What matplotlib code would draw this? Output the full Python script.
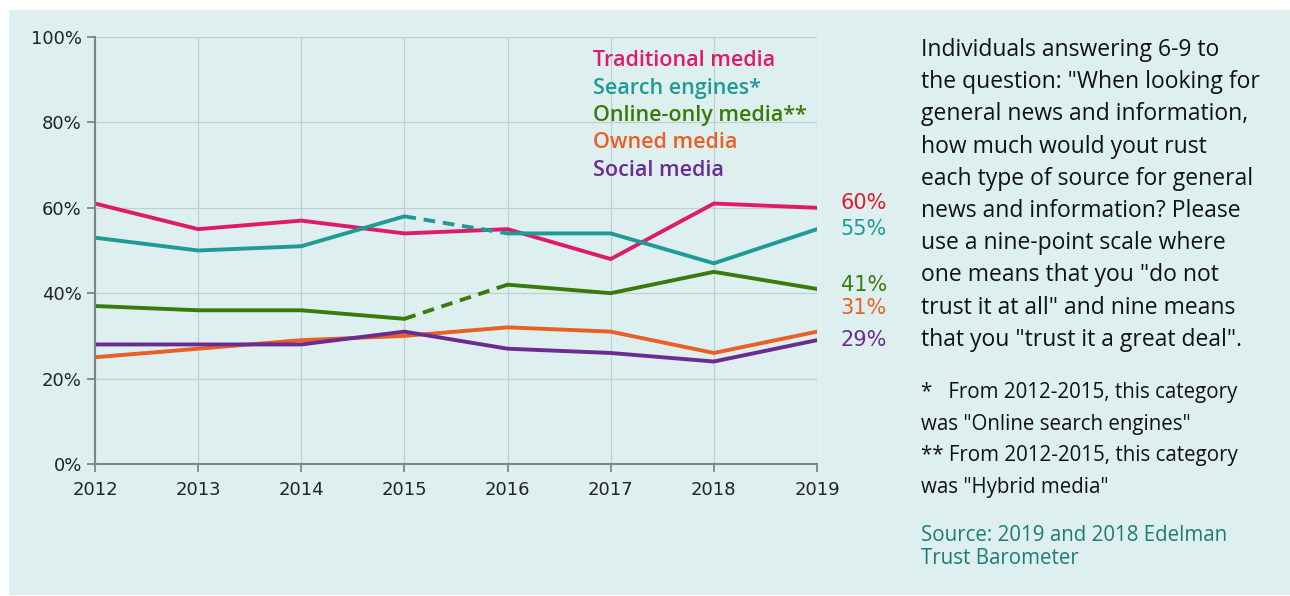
import matplotlib.pyplot as plt
from matplotlib.patches import Rectangle

# Данные
years = [2012, 2013, 2014, 2015, 2016, 2017, 2018, 2019]
traditional = [61, 55, 57, 54, 55, 48, 61, 60]
search = [53, 50, 51, 58, 54, 54, 47, 55]
online_only = [37, 36, 36, 34, 42, 40, 45, 41]
owned = [25, 27, 29, 30, 32, 31, 26, 31]
social = [28, 28, 28, 31, 27, 26, 24, 29]

series_names = ['Traditional media', 'Search engines*', 'Online-only media**',
                'Owned media', 'Social media']
series_values = [traditional, search, online_only, owned, social]
series_colors = ['#E0196A', '#1F9A96', '#3A7A0B', '#EB5E25', '#6A2C91']
label_colors = ['#E3192B', '#1F9A96', '#3A7A0B', '#EB5E25', '#6A2C91']
dashed_gap = [False, True, True, False, False]  # 2015-2016 пунктиром
label_shift = [1.2, 0, 1, 5.5, 0]

fig = plt.figure(figsize=(12.9, 5.96), dpi=100)
fig.patch.set_facecolor('white')
fig.patches.append(Rectangle((9 / 1290, 1 / 596), 1 - 9 / 1290, 585 / 596,
                             transform=fig.transFigure, facecolor='#DDF0EF',
                             edgecolor='none', zorder=-5))

ax = fig.add_axes([95 / 1290, 1 - 464 / 596, 722 / 1290, 427 / 596])
ax.set_facecolor('none')
ax.set_zorder(2)

for name, vals, col, dash in zip(series_names, series_values, series_colors, dashed_gap):
    if dash:
        ax.plot(years[:4], vals[:4], color=col, lw=2.8, solid_capstyle='round')
        ax.plot(years[4:], vals[4:], color=col, lw=2.8, solid_capstyle='round')
        ax.plot(years[3:5], vals[3:5], color=col, lw=2.8, ls=(0, (3, 2)))
    else:
        ax.plot(years, vals, color=col, lw=2.8, solid_capstyle='round')

ax.set_xlim(2012, 2019)
ax.set_ylim(0, 100)
ax.set_xticks(years)
ax.set_yticks(range(0, 101, 20))
ax.set_yticklabels([f'{v}%' for v in range(0, 101, 20)])
ax.grid(True, color='#BFCFCE', lw=0.9)
ax.set_axisbelow(True)
for s in ['top', 'right']:
    ax.spines[s].set_visible(False)
for s in ['left', 'bottom']:
    ax.spines[s].set_color('#7F8585')
    ax.spines[s].set_linewidth(1.5)
ax.tick_params(colors='#7F8585', labelcolor='#222222', labelsize=13, length=6, width=1.3)
ax.tick_params(axis='x', pad=6)

# Легенда текстом
for i, (name, col) in enumerate(zip(series_names, series_colors)):
    fig.text(593 / 1290, 1 - (61 + i * 27.3) / 596, name, color=col, fontsize=15.5,
             fontweight='semibold', family='Open Sans', va='center', zorder=3)

# Подписи последних значений
for vals, col, sh in zip(series_values, label_colors, label_shift):
    ax.annotate(f'{vals[-1]}%', (years[-1], vals[-1] + sh), xytext=(17, 0),
                textcoords='offset points', color=col, fontsize=15, va='center',
                family='DejaVu Sans', annotation_clip=False)

question = ('Individuals answering 6-9 to\nthe question: "When looking for\n'
            'general news and information,\nhow much would yout rust\n'
            'each type of source for general\nnews and information? Please\n'
            'use a nine-point scale where\none means that you "do not\n'
            'trust it at all" and nine means\nthat you "trust it a great deal".')
fig.text(921 / 1290, 1 - 38 / 596, question, fontsize=16.5, family='Open Sans',
         color='#111111', va='top', linespacing=1.455)

notes = ('*   From 2012-2015, this category\nwas "Online search engines"\n'
         '** From 2012-2015, this category\nwas "Hybrid media"')
fig.text(921 / 1290, 1 - 382 / 596, notes, fontsize=14.8, family='Open Sans',
         color='#111111', va='top', linespacing=1.67)

fig.text(921 / 1290, 1 - 525 / 596, 'Source: 2019 and 2018 Edelman\nTrust Barometer',
         fontsize=14.8, family='Open Sans', color='#1F7A78', va='top', linespacing=1.1)

plt.savefig('out.png', dpi=100, facecolor=fig.get_facecolor())
